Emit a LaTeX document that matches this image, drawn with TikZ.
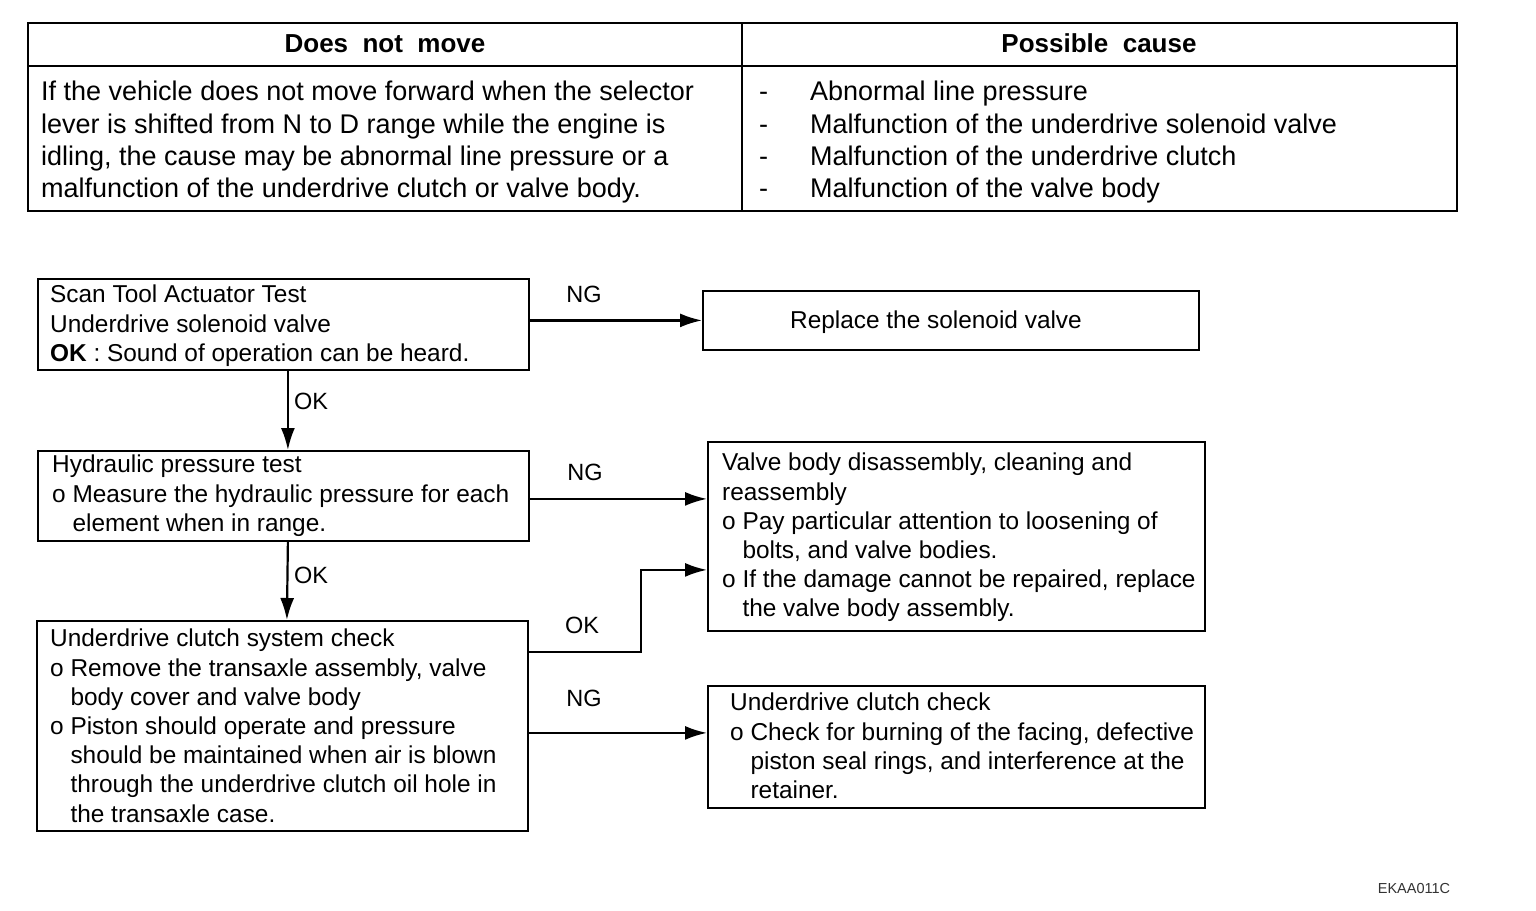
\documentclass[tikz,border=0pt]{standalone}
\usepackage{fontspec}
\setmainfont{Liberation Sans}
\usetikzlibrary{arrows.meta,calc}
\begin{document}
\begin{tikzpicture}[x=1pt,y=-1pt,
  frame/.style={draw=black,line width=1.8pt,rectangle,inner sep=0pt,anchor=north west},
  txt/.style={inner sep=0pt,anchor=north west,align=left,font=\fontsize{24.4}{29.2}\selectfont},
  ttxt/.style={inner sep=0pt,anchor=north west,align=left,font=\fontsize{27}{32.3}\selectfont},
  hdr/.style={inner sep=0pt,font=\bfseries\fontsize{26}{30}\selectfont},
  lbl/.style={inner sep=0pt,font=\fontsize{23.5}{28}\selectfont},
  arr/.style={draw=black,line width=2.2pt,-{Latex[length=22pt,width=14pt]}},
  seg/.style={draw=black,line width=1.6pt}]
\useasboundingbox[fill=white] (0,0) rectangle (1536,910);
% table
\node[frame,minimum width=1429pt,minimum height=188pt] (tab) at (27,22) {};
\coordinate (hl) at (27,66);
\coordinate (hr) at (1456,66);
\coordinate (ct) at (742,22);
\coordinate (cb) at (742,210);
\draw[seg] (hl) -- (hr);
\draw[seg] (ct) -- (cb);
\node[hdr] (h1) at (385,44) {Does\ \ not\ \ move};
\node[hdr] (h2) at (1099,43) {Possible\ \ cause};
\node[ttxt] (t1) at (41,81) {If the vehicle does not move forward when the selector\\lever is shifted from N to D range while the engine is\\idling, the cause may be abnormal line pressure or a\\malfunction of the underdrive clutch or valve body.};
\newcommand{\dsh}{\makebox[54pt][l]{\hspace{3pt}-}}
\node[ttxt] (t3) at (756,81) {\dsh Abnormal line pressure\\\dsh Malfunction of the underdrive solenoid valve\\\dsh Malfunction of the underdrive clutch\\\dsh Malfunction of the valve body};
% boxes
\node[frame,minimum width=491pt,minimum height=91pt] (A) at (37,278) {};
\node[txt] (At) at (50,285) {Scan Tool Actuator Test\\Underdrive solenoid valve\\\textbf{OK} : Sound of operation can be heard.};
\node[frame,minimum width=496pt,minimum height=59pt] (B) at (702,290) {};
\node[txt,anchor=center] (Bt) at (936,322) {Replace the solenoid valve};
\node[frame,minimum width=491pt,minimum height=90pt] (C) at (37,450) {};
\node[txt] (Ct) at (52,455) {Hydraulic pressure test\\o Measure the hydraulic pressure for each\\\hphantom{o }element when in range.};
\node[frame,minimum width=497pt,minimum height=189pt] (D) at (707,441) {};
\node[txt] (Dt) at (722,453) {Valve body disassembly, cleaning and\\reassembly\\o Pay particular attention to loosening of\\\hphantom{o }bolts, and valve bodies.\\o If the damage cannot be repaired, replace\\\hphantom{o }the valve body assembly.};
\node[frame,minimum width=491pt,minimum height=210pt] (E) at (36,620) {};
\node[txt] (Et) at (50,629) {Underdrive clutch system check\\o Remove the transaxle assembly, valve\\\hphantom{o }body cover and valve body\\o Piston should operate and pressure\\\hphantom{o }should be maintained when air is blown\\\hphantom{o }through the underdrive clutch oil hole in\\\hphantom{o }the transaxle case.};
\node[frame,minimum width=497pt,minimum height=122pt] (F) at (707,685) {};
\node[txt] (Ft) at (730,693) {Underdrive clutch check\\o Check for burning of the facing, defective\\\hphantom{o }piston seal rings, and interference at the\\\hphantom{o }retainer.};
% connectors
\draw[arr] (A.east |- B.west) -- (B.west);
\draw[arr] ($(A.south)+(4.5,0)$) -- ($(C.north)+(4.5,0)$);
\draw[arr] ($(C.east)+(0,3)$) -- ($(C.east -| D.west)+(0,3)$);
\draw[arr] ($(C.south)+(4.5,0)$) -- ($(E.north)+(4.5,0)$);
\coordinate (bend) at ($(D.west)+(-66,33.5)$);
\draw[arr] ($(E.north east)+(0,32)$) -| (bend) -- ($(D.west)+(0,33.5)$);
\draw[arr] ($(E.east)+(0,7)$) -- ($(E.east -| F.west)+(0,7)$);
% labels
\node[lbl] (ng1) at (584,294) {NG};
\node[lbl,anchor=west] (ok1) at (294,401) {OK};
\node[lbl] (ng2) at (585,472) {NG};
\node[lbl,anchor=west] (ok2) at (294,575) {OK};
\node[lbl] (ok3) at (582,625) {OK};
\node[lbl] (ng3) at (584,698) {NG};
\node[inner sep=0pt,font=\fontsize{14.5}{17}\selectfont,text=black!80] (code) at (1414,888) {EKAA011C};
\end{tikzpicture}
\end{document}
